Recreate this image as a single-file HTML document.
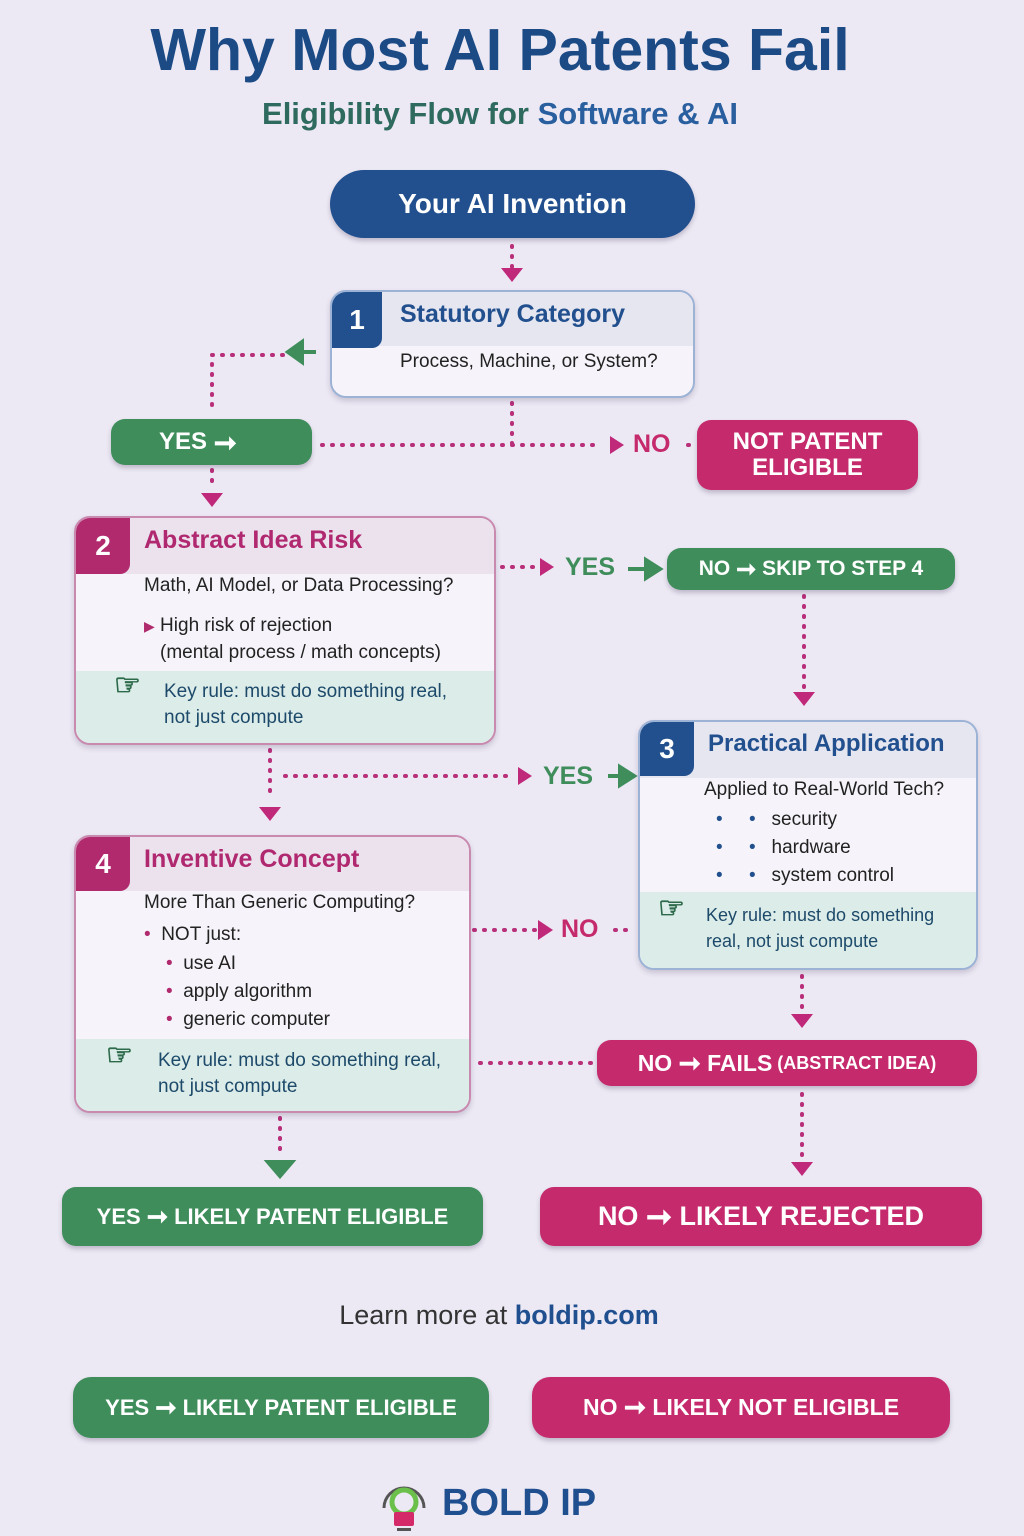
<!DOCTYPE html>
<html><head><meta charset="utf-8"><style>
*{margin:0;padding:0;box-sizing:border-box}
body{width:1024px;height:1536px;background:#ece9f4;font-family:"Liberation Sans",sans-serif;position:relative;overflow:hidden}
.a{position:absolute}
.pill{position:absolute;display:flex;align-items:center;justify-content:center;color:#fff;font-weight:bold;border-radius:14px;box-shadow:0 3px 5px rgba(60,40,80,.25);text-align:center}
.g{background:#3e8d5b}.m{background:#c52a6c}.b{background:#22508e}
.box{position:absolute;background:#f6f4fa;border-radius:16px;overflow:hidden;box-shadow:0 3px 6px rgba(60,40,80,.2)}
.num{position:absolute;left:0;top:0;color:#fff;font-weight:bold;font-size:28px;display:flex;align-items:center;justify-content:center;border-bottom-right-radius:10px}
.hd{position:absolute;left:0;right:0;top:0;background:#e6e6f0}
.key{position:absolute;left:0;right:0;bottom:0;background:#dcece9;color:#1d4a6a;font-size:19px;line-height:26px}
.t{position:absolute;font-size:19px;color:#222;line-height:28px}
.ar{font-size:1.15em;font-weight:bold}
.hand{position:absolute;font-size:30px;color:#2c6a4a;font-weight:bold}
</style></head><body>
<div class="a" style="left:0;width:1000px;top:16px;text-align:center;font-size:59px;font-weight:bold;color:#1b4a85">Why Most AI Patents Fail</div>
<div class="a" style="left:0;width:1000px;top:96px;text-align:center;font-size:31px;font-weight:bold;color:#2f6a5f">Eligibility Flow for <span style="color:#2a5f9f">Software &amp; AI</span></div>

<svg class="a" style="left:0;top:0" width="1024" height="1536">
<g fill="none" stroke-width="4" stroke-dasharray="1 9" stroke-linecap="round">
<path d="M512 246V268" stroke="#b8307a"/>
<path d="M512 403V445M322 445H600" stroke="#b8307a"/>
<path d="M212 405V355H285" stroke="#b8307a"/>
<path d="M212 470V490" stroke="#b8307a"/>
<path d="M472 567H535" stroke="#b8307a"/>
<path d="M804 596V688" stroke="#b8307a"/>
<path d="M270 750V800M285 776H515" stroke="#b8307a"/>
<path d="M474 930H535M615 930H630" stroke="#b8307a"/>
<path d="M802 976V1012" stroke="#b8307a"/>
<path d="M480 1063H592" stroke="#b8307a"/>
<path d="M802 1094V1160" stroke="#b8307a"/>
<path d="M280 1118V1158" stroke="#b8307a"/>
<path d="M688 445H694" stroke="#b8307a"/>
</g>
<g fill="#c0287a">
<path d="M501 268h22l-11 14z"/><path d="M610 436v18l14-9z"/><path d="M201 493h22l-11 14z"/>
<path d="M540 558v18l14-9z"/><path d="M793 692h22l-11 14z"/><path d="M259 807h22l-11 14z"/>
<path d="M518 767v18l14-9z"/><path d="M538 920v20l15-10z"/><path d="M791 1014h22l-11 14z"/><path d="M791 1162h22l-11 14z"/>
</g>
<g fill="#3e8d5b" stroke="#3e8d5b" stroke-width="4">
<path d="M288 352l14-10v20z"/><path d="M302 352h14"/>
<path d="M628 569h20"/><path d="M646 560l14 9-14 9z"/>
<path d="M608 776h16"/><path d="M620 767l14 9-14 9z"/>
<path d="M268 1162h24l-12 14z"/>
</g>
</svg>

<div class="pill b" style="left:330px;top:170px;width:365px;height:68px;border-radius:34px;font-size:28px">Your AI Invention</div>

<div class="box" style="left:330px;top:290px;width:365px;height:108px;border:2px solid #9db3d6">
 <div class="hd" style="height:54px"></div>
 <div class="num b" style="width:50px;height:56px">1</div>
 <div class="t" style="left:68px;top:8px;font-size:25px;font-weight:bold;color:#22508e">Statutory Category</div>
 <div class="t" style="left:68px;top:56px">Process, Machine, or System?</div>
</div>

<div class="pill g" style="left:111px;top:419px;width:201px;height:46px;font-size:24px;justify-content:flex-start;padding-left:48px">YES&nbsp;<span class="ar">➞</span></div>
<div class="a" style="left:633px;top:430px;font-size:25px;font-weight:bold;color:#c52a6c">NO</div>
<div class="pill m" style="left:697px;top:420px;width:221px;height:70px;font-size:24px;line-height:26px">NOT PATENT<br>ELIGIBLE</div>

<div class="box" style="left:74px;top:516px;width:422px;height:229px;border:2px solid #c98ab0">
 <div class="hd" style="height:56px;background:#ece2ee"></div>
 <div class="num" style="width:54px;height:56px;background:#b02a6d">2</div>
 <div class="t" style="left:68px;top:8px;font-size:25px;font-weight:bold;color:#b0286f">Abstract Idea Risk</div>
 <div class="t" style="left:68px;top:54px">Math, AI Model, or Data Processing?</div>
 <div class="t" style="left:68px;top:94px"><span style="color:#b02a6d;font-size:14px">▶</span> High risk of rejection</div>
 <div class="t" style="left:84px;top:121px">(mental process / math concepts)</div>
 <div class="key" style="height:72px;padding:8px 0 0 88px"><span class="hand" style="left:38px;top:2px">☞</span>Key rule: must do something real,<br>not just compute</div>
</div>

<div class="a" style="left:565px;top:553px;font-size:25px;font-weight:bold;color:#3e8d5b">YES</div>
<div class="pill g" style="left:667px;top:548px;width:288px;height:42px;font-size:21px">NO&nbsp;<span class="ar">➞</span>&nbsp;SKIP TO STEP 4</div>

<div class="box" style="left:638px;top:720px;width:340px;height:250px;border:2px solid #9db3d6">
 <div class="hd" style="height:56px"></div>
 <div class="num b" style="width:54px;height:54px">3</div>
 <div class="t" style="left:68px;top:8px;font-size:24px;font-weight:bold;color:#22508e">Practical Application</div>
 <div class="t" style="left:64px;top:54px">Applied to Real-World Tech?</div>
 <div class="t" style="left:76px;top:84px;line-height:28px"><span style="color:#22508e">•&nbsp;&nbsp;&nbsp;&nbsp;&nbsp;•</span>&nbsp;&nbsp; security<br><span style="color:#22508e">•&nbsp;&nbsp;&nbsp;&nbsp;&nbsp;•</span>&nbsp;&nbsp; hardware<br><span style="color:#22508e">•&nbsp;&nbsp;&nbsp;&nbsp;&nbsp;•</span>&nbsp;&nbsp; system control</div>
 <div class="key" style="height:76px;padding:10px 0 0 66px;font-size:18px"><span class="hand" style="left:18px;top:4px">☞</span>Key rule: must do something<br>real, not just compute</div>
</div>
<div class="a" style="left:543px;top:762px;font-size:25px;font-weight:bold;color:#3e8d5b">YES</div>

<div class="box" style="left:74px;top:835px;width:397px;height:278px;border:2px solid #c98ab0">
 <div class="hd" style="height:54px;background:#ece2ee"></div>
 <div class="num" style="width:54px;height:54px;background:#b02a6d">4</div>
 <div class="t" style="left:68px;top:8px;font-size:25px;font-weight:bold;color:#b0286f">Inventive Concept</div>
 <div class="t" style="left:68px;top:52px">More Than Generic Computing?</div>
 <div class="t" style="left:68px;top:84px"><span style="color:#b02a6d">•</span>&nbsp; NOT just:</div>
 <div class="t" style="left:90px;top:113px"><span style="color:#b02a6d">•</span>&nbsp; use AI<br><span style="color:#b02a6d">•</span>&nbsp; apply algorithm<br><span style="color:#b02a6d">•</span>&nbsp; generic computer</div>
 <div class="key" style="height:72px;padding:9px 0 0 82px"><span class="hand" style="left:30px;top:4px">☞</span>Key rule: must do something real,<br>not just compute</div>
</div>
<div class="a" style="left:561px;top:915px;font-size:25px;font-weight:bold;color:#c52a6c">NO</div>

<div class="pill m" style="left:597px;top:1040px;width:380px;height:46px;font-size:23px">NO&nbsp;<span class="ar">➞</span>&nbsp;FAILS <span style="font-size:18px">&nbsp;(ABSTRACT IDEA)</span></div>

<div class="pill g" style="left:62px;top:1187px;width:421px;height:59px;font-size:22px">YES&nbsp;<span class="ar">➞</span>&nbsp;LIKELY PATENT ELIGIBLE</div>
<div class="pill m" style="left:540px;top:1187px;width:442px;height:59px;font-size:27px">NO&nbsp;<span class="ar">➞</span>&nbsp;LIKELY REJECTED</div>

<div class="a" style="left:0;width:998px;top:1300px;text-align:center;font-size:27px;color:#333">Learn more at <b style="color:#1f4f8f">boldip.com</b></div>

<div class="pill g" style="left:73px;top:1377px;width:416px;height:61px;font-size:22px;border-radius:18px">YES&nbsp;<span class="ar">➞</span>&nbsp;LIKELY PATENT ELIGIBLE</div>
<div class="pill m" style="left:532px;top:1377px;width:418px;height:61px;font-size:23px;border-radius:18px">NO&nbsp;<span class="ar">➞</span>&nbsp;LIKELY NOT ELIGIBLE</div>

<svg class="a" style="left:376px;top:1478px" width="56" height="58">
<path d="M8 30a20 20 0 1 1 40 0" fill="none" stroke="#555" stroke-width="3"/>
<circle cx="28" cy="24" r="12" fill="none" stroke="#6bc04b" stroke-width="5"/>
<rect x="18" y="34" width="20" height="14" rx="2" fill="#d42a6a"/>
<rect x="21" y="50" width="14" height="3" fill="#555"/>
</svg>
<div class="a" style="left:442px;top:1482px;font-size:38px;font-weight:bold;color:#1f4f8f">BOLD IP</div>
</body></html>
